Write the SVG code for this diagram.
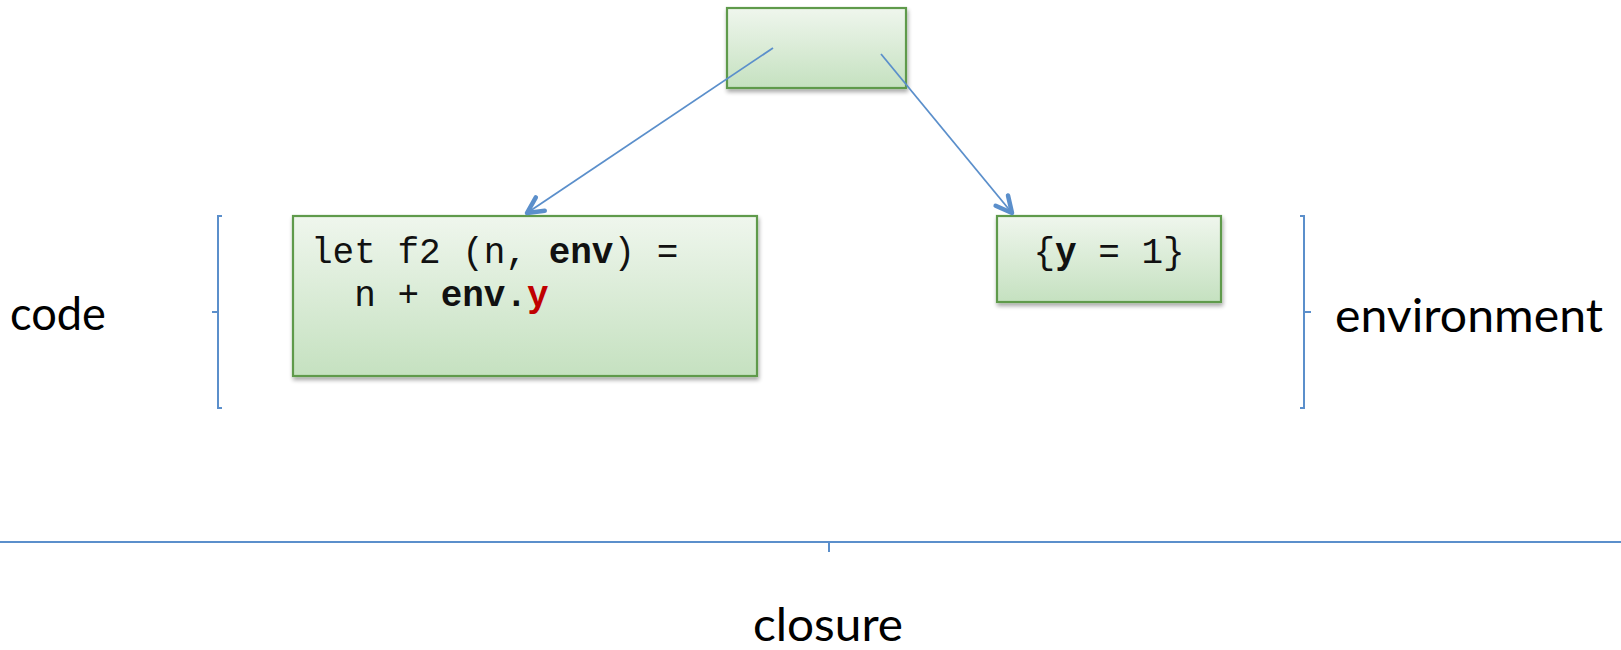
<svg xmlns="http://www.w3.org/2000/svg" width="1621" height="650" viewBox="0 0 1621 650">
  <style>
    .box { fill: url(#boxFill); stroke: #5E9A4B; stroke-width: 2.2; filter: url(#shadow); }
    .code { font-family: "Liberation Mono", "Courier New", monospace; font-size: 36px; fill: #111; }
    .b { font-weight: bold; }
    .label { font-family: Lato, "Open Sans", "Liberation Sans", sans-serif; font-size: 47px; fill: #000; }
    .brace { fill: none; stroke: #5B8FCB; stroke-width: 2; }
    .conn { fill: none; stroke: #5B8FCB; stroke-width: 1.8; }
  </style>
  <defs>
    <linearGradient id="boxFill" x1="0" y1="0" x2="0" y2="1">
      <stop offset="0" stop-color="#EFF6ED"/>
      <stop offset="1" stop-color="#C5E1C0"/>
    </linearGradient>
    <filter id="shadow" x="-5%" y="-5%" width="115%" height="120%">
      <feGaussianBlur in="SourceAlpha" stdDeviation="2"/>
      <feOffset dx="1" dy="3" result="blur"/>
      <feComponentTransfer><feFuncA type="linear" slope="0.35"/></feComponentTransfer>
      <feMerge><feMergeNode/><feMergeNode in="SourceGraphic"/></feMerge>
    </filter>
    <marker id="arrow" markerUnits="userSpaceOnUse" markerWidth="24" markerHeight="24" refX="14" refY="8" orient="auto" viewBox="0 0 18 16">
      <path d="M2,2 L14,8 L2,14" fill="none" stroke="#5B8FCB" stroke-width="3.4" stroke-linecap="round" stroke-linejoin="round"/>
    </marker>
  </defs>

  <rect width="1621" height="650" fill="#FFFFFF"/>

  <!-- closure record -->
  <g id="closure-node">
    <rect class="box" x="727" y="8" width="179" height="80"/>
  </g>

  <!-- code part -->
  <g id="code-node">
    <rect class="box" x="293" y="216" width="464" height="160"/>
    <text class="code" x="311" y="263" xml:space="preserve">let f2 (n, <tspan class="b">env</tspan>) =</text>
    <text class="code" x="311" y="306" xml:space="preserve">  n + <tspan class="b">env.</tspan><tspan class="b" fill="#C00000">y</tspan></text>
  </g>

  <!-- environment part -->
  <g id="env-node">
    <rect class="box" x="997" y="216" width="224" height="86"/>
    <text class="code" x="1109" y="263" text-anchor="middle" xml:space="preserve">{<tspan class="b">y</tspan> = 1}</text>
  </g>

  <!-- pointers from the closure record -->
  <g id="connectors">
    <line class="conn" x1="773" y1="48" x2="527" y2="213" marker-end="url(#arrow)"/>
    <line class="conn" x1="881" y1="54" x2="1012" y2="213" marker-end="url(#arrow)"/>
  </g>

  <!-- brackets -->
  <g id="code-bracket">
    <path class="brace" d="M222,216 H218 V408 H222 M218,312 H212"/>
    <text class="label" x="10" y="330" textLength="96" lengthAdjust="spacingAndGlyphs">code</text>
  </g>
  <g id="env-bracket">
    <path class="brace" d="M1300,216 H1304 V408 H1300 M1304,312 H1311"/>
    <text class="label" x="1335" y="332" textLength="268" lengthAdjust="spacingAndGlyphs">environment</text>
  </g>
  <g id="closure-bracket">
    <path class="brace" d="M0,542 H1621 M829,542 V552"/>
    <text class="label" x="753" y="641" textLength="150" lengthAdjust="spacingAndGlyphs">closure</text>
  </g>
</svg>
